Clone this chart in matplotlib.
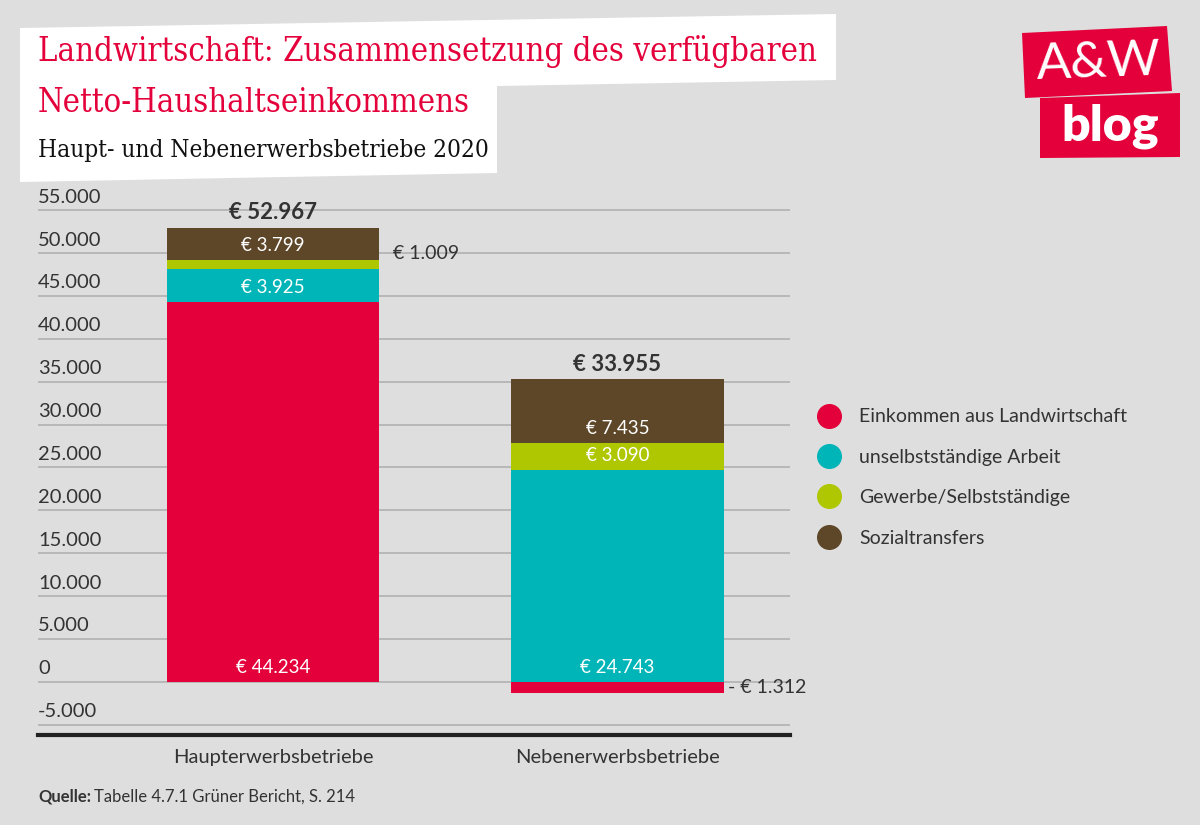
import numpy as np
import matplotlib
matplotlib.use("Agg")
import matplotlib.pyplot as plt
from matplotlib.patches import Polygon
from matplotlib.lines import Line2D
import matplotlib.transforms as mtransforms

# Daten
betriebe = ["Haupterwerbsbetriebe", "Nebenerwerbsbetriebe"]
kategorien = ["Einkommen aus Landwirtschaft", "unselbstständige Arbeit",
              "Gewerbe/Selbstständige", "Sozialtransfers"]
landwirtschaft = [44234, -1312]
unselbst = [3925, 24743]
gewerbe = [1009, 3090]
sozial = [3799, 7435]
gesamt = [52967, 33955]
y_ticks = [-5000, 0, 5000, 10000, 15000, 20000, 25000, 30000, 35000, 40000, 45000, 50000, 55000]

farben = ["#E4003A", "#00B5B8", "#AFC700", "#5E4628"]
BG = "#DEDEDE"
TXT = "#333333"

plt.rcParams['font.family'] = ['Lato', 'DejaVu Sans']

fig = plt.figure(figsize=(12, 8.25), dpi=100, facecolor=BG)
W, H = 1200, 825

def fx(px):
    return px / W

def fy(py):
    return 1 - py / H

ax = fig.add_axes([fx(38), fy(735), fx(790) - fx(38), fy(205) - fy(735)])
ax.set_facecolor(BG)
ax.set_xlim(-0.683, 1.501)
ax.set_ylim(-6200, 55600)

x = np.arange(len(betriebe))
breite = 0.616

# gestapelte Balken: positive Teile ab 0, negative darunter
serien = [landwirtschaft, unselbst, gewerbe, sozial]
pos_basis = np.zeros(len(betriebe))
neg_basis = np.zeros(len(betriebe))
segmente = []
for s, farbe in zip(serien, farben):
    werte = np.array(s, dtype=float)
    basis = np.where(werte >= 0, pos_basis, neg_basis)
    ax.bar(x, werte, breite, bottom=basis, color=farbe, zorder=3)
    segmente.append((werte, basis))
    pos_basis = pos_basis + np.where(werte >= 0, werte, 0)
    neg_basis = neg_basis + np.where(werte < 0, werte, 0)

def fmt(v):
    return "€ " + f"{abs(v):,.0f}".replace(",", ".")

# Beschriftungen in den Segmenten (nahe am Segmentboden)
for (werte, basis) in segmente:
    for i, (w, b) in enumerate(zip(werte, basis)):
        if w < 0:
            ax.text(x[i] + breite / 2 + 0.013, w / 2, "- " + fmt(w), ha="left", va="center",
                    fontsize=14, color=TXT, zorder=4)
        elif w < 2000:
            ax.text(x[i] + breite / 2 + 0.04, b + w / 2 + 1300, fmt(w), ha="left", va="center",
                    fontsize=14, color=TXT, zorder=4)
        else:
            ax.text(x[i], b + 1700, fmt(w), ha="center", va="center",
                    fontsize=13.5, color="white", zorder=4)

for i, g in enumerate(gesamt):
    ax.text(x[i], pos_basis[i] + 1750, fmt(g), ha="center", va="center",
            fontsize=16, fontweight="bold", color=TXT, zorder=4)

# Gitter und Achsen
ax.set_yticks(y_ticks)
ax.yaxis.grid(True, color="#B5B5B5", lw=1.3, zorder=0)
ax.tick_params(axis="y", length=0, labelleft=False)
ax.tick_params(axis="x", length=0, labelsize=14.5, colors=TXT, pad=10)
ax.set_xticks(x)
ax.set_xticklabels(betriebe)
for sp in ["top", "left", "right"]:
    ax.spines[sp].set_visible(False)
ax.spines["bottom"].set_color("#222222")
ax.spines["bottom"].set_linewidth(3)

trans = mtransforms.blended_transform_factory(ax.transAxes, ax.transData)
off = mtransforms.offset_copy(trans, fig=fig, x=0, y=13, units="dots")
for t in y_ticks:
    lbl = f"{t:,.0f}".replace(",", ".")
    ax.text(0, t, lbl, transform=off, ha="left", va="center", fontsize=14.5, color=TXT)

# Legende
handles = [Line2D([], [], marker="o", ls="", markersize=17, markerfacecolor=f,
                  markeredgecolor=f) for f in farben]
fig.legend(handles, kategorien, loc="upper left", bbox_to_anchor=(fx(800), fy(391)),
           frameon=False, fontsize=14, labelspacing=1.2, handletextpad=0.95,
           labelcolor=TXT, handlelength=1.2)

# Titelbox (leicht schräg)
box = [(20, 28), (836, 14), (836, 80), (497, 86), (497, 173), (20, 182)]
fig.add_artist(Polygon([(fx(a), fy(b)) for a, b in box], closed=True,
                       transform=fig.transFigure, facecolor="white", edgecolor="none"))
fig.text(fx(38), fy(52), "Landwirtschaft: Zusammensetzung des verfügbaren",
         family="DejaVu Serif", fontstretch="condensed", fontsize=23.5, color="#E4003A", va="center")
fig.text(fx(38), fy(103), "Netto-Haushaltseinkommens",
         family="DejaVu Serif", fontstretch="condensed", fontsize=23.5, color="#E4003A", va="center")
fig.text(fx(38), fy(150), "Haupt- und Nebenerwerbsbetriebe 2020",
         family="DejaVu Serif", fontstretch="condensed", fontsize=17.5, color="#111111", va="center")

# Logo
logo_oben = [(1022, 33), (1167, 26), (1172, 91), (1025, 98)]
logo_unten = [(1040, 98), (1180, 93), (1180, 157), (1040, 158)]
for pts in (logo_oben, logo_unten):
    fig.add_artist(Polygon([(fx(a), fy(b)) for a, b in pts], closed=True,
                           transform=fig.transFigure, facecolor="#E4003A", edgecolor="none"))
fig.text(fx(1099), fy(63), "A&W", ha="center", va="center", fontsize=37, color="white",
         family="Lato", fontweight="normal", rotation=2)
fig.text(fx(1110), fy(126), "blog", ha="center", va="center", fontsize=36, color="white",
         family="Lato", fontweight="heavy")

# Quelle
fig.text(fx(38), fy(797), "Quelle:", fontsize=12, fontweight="bold", color=TXT, va="center")
fig.text(fx(94), fy(797), "Tabelle 4.7.1 Grüner Bericht, S. 214", fontsize=12, color=TXT, va="center")

fig.savefig("out.png", dpi=100, facecolor=BG)
